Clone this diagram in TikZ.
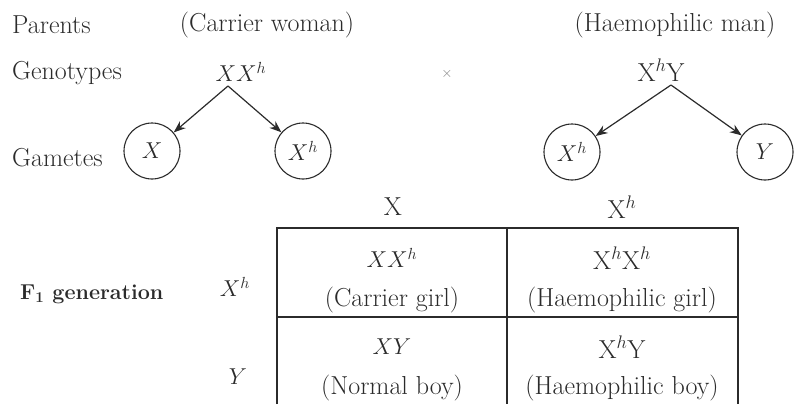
\RequirePackage{fix-cm}
\documentclass[tikz,border=0pt]{standalone}
\usepackage{fontspec}
\usepackage{xcolor}
\usepackage{tikz}
\usetikzlibrary{positioning, arrows.meta}
\definecolor{ink}{HTML}{2B2B2B}

\begin{document}
\begin{tikzpicture}[
    x=1pt, y=-1pt,
    txt/.style={inner sep=0pt, text=ink, font=\fontsize{26}{31}\selectfont},
    mth/.style={inner sep=0pt, text=ink, font=\fontsize{23}{27}\selectfont},
    gamete/.style={circle, draw=ink, line width=1.1pt, minimum size=56pt, inner sep=0pt, text=ink, font=\fontsize{23}{27}\selectfont},
    arrow/.style={-{Stealth[length=12pt, width=9pt]}, line width=1.2pt, ink},
    grid/.style={line width=2.4pt, ink}
  ]

    \useasboundingbox (0,0) rectangle (794,404);

    % parents and genotypes
    \node[txt, anchor=west] (parents) at (12,25) {Parents};
    \node[txt] (woman) at (267,25) {(Carrier woman)};
    \node[txt] (man) at (675,25) {(Haemophilic man)};

    \node[txt, anchor=west] (geno) at (12,73) {Genotypes};
    \node[mth] (xxh) at (241,72) {$XX^h$};
    \node[txt, text=gray, font=\Large] (cross) at (447,74) {$\times$};
    \node[txt] (xhy) at (661,70) {X$^h$Y};
    \coordinate (wtop) at (228,86);
    \coordinate (mtop) at (671,85);

    % gametes
    \node[txt, anchor=west] (gam) at (12,158) {Gametes};
    \node[gamete] (gx) at (152,151) {$X$};
    \node[gamete] (gxh) at (303,151) {$X^h$};
    \node[gamete] (mxh) at (572,152) {$X^h$};
    \node[gamete] (my) at (765,152) {$Y$};

    \draw[arrow] (wtop) -- (gx);
    \draw[arrow] (wtop) -- (gxh);
    \draw[arrow] (mtop) -- (mxh);
    \draw[arrow] (mtop) -- (my);

    % F1 table
    \draw[grid] (277,404) -- (277,228) -- (738,228) -- (738,404);
    \draw[grid] (507,228) -- (507,404);
    \draw[grid] (277,317) -- (738,317);

    \node[txt] (colx) at (393,207) {X};
    \node[txt] (colxh) at (622,207) {X$^h$};
    \node[txt, anchor=west, font=\fontsize{21.5}{25}\selectfont\bfseries] (f1) at (20,294) {F\textsubscript{1} generation};
    \node[mth] (rowxh) at (235,287) {$X^h$};
    \node[mth] (rowy) at (238,377) {$Y$};

    \node[mth] (c11) at (392,258) {$XX^h$};
    \node[txt] (c11p) at (392,300) {(Carrier girl)};
    \node[txt] (c12) at (622,258) {X$^h$X$^h$};
    \node[txt] (c12p) at (622,300) {(Haemophilic girl)};
    \node[mth] (c21) at (392,347) {$XY$};
    \node[txt] (c21p) at (392,388) {(Normal boy)};
    \node[txt] (c22) at (622,347) {X$^h$Y};
    \node[txt] (c22p) at (622,388) {(Haemophilic boy)};

\end{tikzpicture}
\end{document}
